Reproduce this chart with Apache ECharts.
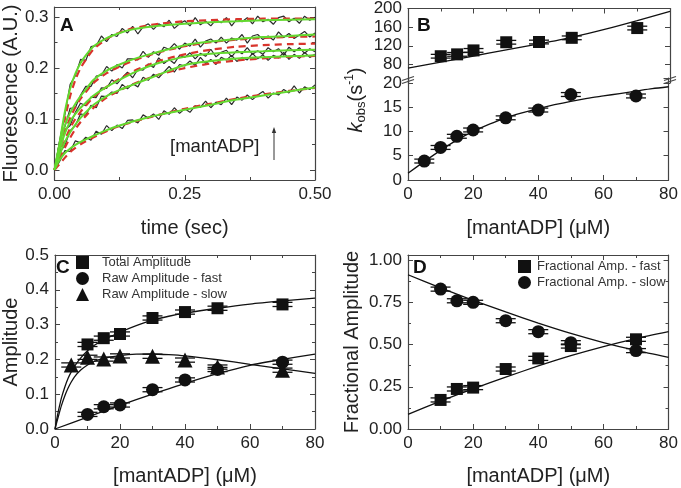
<!DOCTYPE html>
<html><head><meta charset="utf-8">
<script src="https://cdn.jsdelivr.net/npm/echarts@6/dist/echarts.min.js"></script>
<style>html,body{margin:0;padding:0;background:#fff}#c{width:681px;height:488px}</style>
</head><body><div id="c"></div>
<script>
// ---------- Panel A: stopped-flow traces ----------
const timeA = [0,0.01,0.02,0.03,0.04,0.05,0.06,0.07,0.08,0.09,0.10,0.11,0.12,0.13,0.14,0.15,0.16,0.17,0.18,0.19,0.20,0.21,0.22,0.23,0.24,0.25,0.26,0.27,0.28,0.29,0.30,0.31,0.32,0.33,0.34,0.35,0.36,0.37,0.38,0.39,0.40,0.41,0.42,0.43,0.44,0.45,0.46,0.47,0.48,0.49,0.50];
const traceA1 = [0,0.059,0.109,0.168,0.185,0.217,0.215,0.242,0.244,0.263,0.252,0.266,0.262,0.278,0.269,0.282,0.267,0.281,0.287,0.276,0.287,0.281,0.294,0.278,0.287,0.293,0.283,0.299,0.285,0.292,0.283,0.295,0.289,0.299,0.283,0.296,0.291,0.299,0.287,0.302,0.291,0.296,0.286,0.299,0.302,0.291,0.298,0.288,0.302,0.294,0.300];
const traceA2 = [0,0.057,0.085,0.121,0.122,0.147,0.164,0.164,0.184,0.186,0.203,0.194,0.207,0.200,0.218,0.218,0.216,0.233,0.221,0.232,0.225,0.241,0.237,0.248,0.237,0.249,0.243,0.257,0.241,0.253,0.257,0.249,0.261,0.249,0.259,0.255,0.266,0.249,0.263,0.266,0.256,0.263,0.255,0.271,0.260,0.268,0.258,0.265,0.272,0.261,0.269];
const traceA3 = [0,0.036,0.078,0.087,0.113,0.131,0.126,0.143,0.142,0.161,0.160,0.177,0.169,0.181,0.192,0.181,0.198,0.196,0.208,0.201,0.220,0.209,0.217,0.209,0.225,0.221,0.230,0.218,0.229,0.223,0.237,0.222,0.231,0.235,0.222,0.235,0.228,0.240,0.227,0.234,0.227,0.240,0.232,0.238,0.225,0.241,0.232,0.240,0.229,0.238,0.232];
const traceA4 = [0,0.035,0.048,0.077,0.087,0.110,0.107,0.127,0.122,0.145,0.144,0.153,0.150,0.168,0.159,0.169,0.163,0.182,0.176,0.188,0.181,0.192,0.203,0.192,0.207,0.204,0.214,0.205,0.221,0.209,0.217,0.207,0.221,0.216,0.225,0.213,0.221,0.216,0.229,0.218,0.226,0.215,0.225,0.220,0.231,0.217,0.227,0.219,0.231,0.221,0.227];
const traceA5 = [0,0.017,0.038,0.036,0.057,0.053,0.064,0.058,0.076,0.070,0.087,0.077,0.088,0.081,0.097,0.098,0.092,0.108,0.102,0.110,0.099,0.116,0.109,0.122,0.111,0.120,0.113,0.126,0.123,0.135,0.122,0.133,0.128,0.141,0.128,0.143,0.137,0.147,0.138,0.147,0.154,0.141,0.151,0.147,0.158,0.151,0.165,0.151,0.163,0.158,0.167];
const fitTimeA = [0,0.005,0.01,0.02,0.03,0.04,0.05,0.06,0.075,0.1,0.125,0.15,0.175,0.2,0.25,0.3,0.35,0.4,0.45,0.5];
const greenA1 = [0,0.025,0.055,0.115,0.160,0.189,0.210,0.225,0.243,0.259,0.269,0.276,0.280,0.283,0.287,0.290,0.292,0.294,0.295,0.296];
const greenA2 = [0,0.028,0.050,0.088,0.112,0.130,0.145,0.158,0.177,0.195,0.207,0.217,0.225,0.232,0.245,0.252,0.257,0.261,0.263,0.266];
const greenA3 = [0,0.022,0.040,0.072,0.095,0.110,0.122,0.132,0.146,0.163,0.177,0.190,0.201,0.210,0.222,0.228,0.231,0.233,0.235,0.236];
const greenA4 = [0,0.016,0.030,0.055,0.074,0.089,0.102,0.113,0.128,0.145,0.157,0.167,0.177,0.187,0.206,0.214,0.219,0.221,0.223,0.225];
const greenA5 = [0,0.011,0.020,0.033,0.042,0.049,0.055,0.060,0.067,0.078,0.087,0.095,0.102,0.108,0.118,0.128,0.138,0.146,0.154,0.162];
const redA1 = [0,0.018,0.045,0.100,0.145,0.177,0.200,0.216,0.237,0.257,0.270,0.278,0.283,0.287,0.292,0.294,0.296,0.297,0.297,0.297];
const redA2 = [0,0.020,0.040,0.075,0.102,0.123,0.140,0.153,0.171,0.190,0.203,0.214,0.223,0.231,0.243,0.251,0.256,0.259,0.261,0.262];
const redA3 = [0,0.015,0.030,0.058,0.082,0.100,0.114,0.126,0.143,0.163,0.179,0.193,0.204,0.214,0.227,0.236,0.242,0.245,0.247,0.248];
const redA4 = [0,0.010,0.022,0.044,0.063,0.080,0.094,0.106,0.122,0.142,0.156,0.168,0.178,0.187,0.200,0.209,0.215,0.219,0.222,0.224];
const redA5 = [0,0.006,0.012,0.024,0.035,0.043,0.050,0.056,0.064,0.076,0.086,0.094,0.101,0.108,0.120,0.130,0.140,0.148,0.155,0.161];

// ---------- Panel B: kobs vs [mantADP] ----------
const concBfast = [10,15,20,30,40,50,70];
const kFastB = [97.5,101.5,110,127.5,128,137,158];
const errFastB = [4,4,4,4,4,4,4];
const concBslow = [5,10,15,20,30,40,50,70];
const kSlowB = [3.9,6.7,9.0,10.3,12.8,14.4,17.6,17.3];
const errSlowB = [0.4,0.4,0.4,0.4,0.4,0.4,0.4,0.4];
const fitXBfast = [0,10,20,30,40,50,60,70,80];
const fitFastB = [72,85,98,111,124,138,155,174,194];
const fitXBslow = [0,5,10,15,20,25,30,35,40,45,50,55,60,65,70,75,80];
const fitSlowB = [1.4,3.8,6.1,8.2,10.0,11.5,12.8,13.8,14.7,15.5,16.2,16.8,17.3,17.8,18.3,18.8,19.2];

// ---------- Panel C: amplitudes ----------
const concC = [10,15,20,30,40,50,70];
const totalC = [0.243,0.261,0.273,0.319,0.336,0.347,0.358];
const fastC = [0.042,0.064,0.069,0.113,0.141,0.171,0.192];
const concCslow = [5,10,15,20,30,40,50,70];
const slowC = [0.184,0.206,0.201,0.210,0.209,0.198,0.178,0.169];
const errC = [0.006,0.006,0.006,0.006,0.006,0.006,0.006,0.006];
const fitXC = [0,0.5,1,1.5,2,3,4,5,6,8,10,12,15,20,25,30,35,40,50,60,70,80];
const fitTotalC = [0,0.026,0.05,0.071,0.09,0.12,0.145,0.164,0.18,0.205,0.225,0.24,0.256,0.278,0.297,0.313,0.324,0.333,0.347,0.359,0.368,0.376];
const fitSlowC = [0,0.018,0.035,0.052,0.068,0.095,0.117,0.135,0.15,0.17,0.184,0.194,0.203,0.211,0.215,0.2155,0.2135,0.21,0.199,0.186,0.173,0.16];
const fitXCfast = [0,10,20,30,40,50,60,70,80];
const fitFastC = [0,0.034,0.068,0.1,0.131,0.159,0.183,0.2,0.215];

// ---------- Panel D: fractional amplitudes ----------
const concD = [10,15,20,30,40,50,70];
const fracFastD = [0.172,0.237,0.245,0.355,0.418,0.491,0.531];
const fracSlowD = [0.828,0.759,0.750,0.641,0.576,0.511,0.464];
const errD = [0.012,0.012,0.012,0.012,0.012,0.012,0.012];
const fitXD = [0,10,20,30,40,50,60,70,80];
const fitSlowD = [0.913,0.835,0.762,0.693,0.627,0.566,0.512,0.465,0.424];
const fitFastD = [0.087,0.165,0.238,0.307,0.373,0.434,0.488,0.535,0.576];

// ---------- helpers ----------
const FONT = '"Liberation Sans", Arial, Helvetica, sans-serif';
const AX = '#444', TXT = '#222', INK = '#111';
const zip = (xs, ys) => xs.map((x, i) => [x, ys[i]]);
const zip3 = (xs, ys, es) => xs.map((x, i) => [x, ys[i], es[i]]);

function axisBase(extra) {
  return Object.assign({
    type: 'value',
    axisLine: { show: true, onZero: false, lineStyle: { color: AX, width: 1.2 } },
    axisTick: { show: true, inside: true, length: 5, lineStyle: { color: AX, width: 1 } },
    minorTick: { show: true, splitNumber: 2, length: 3, lineStyle: { color: AX, width: 1 } },
    splitLine: { show: false },
    axisLabel: { show: true, fontSize: 17, color: TXT, fontFamily: FONT, margin: 6 },
    nameTextStyle: { fontSize: 20, color: TXT, fontFamily: FONT },
    nameLocation: 'middle'
  }, extra);
}
function mirror(a, pos) {
  const m = JSON.parse(JSON.stringify(a));
  m.position = pos;
  m.axisLabel = { show: false };
  m.name = '';
  return m;
}
function fmt(d) { return v => v.toFixed(d); }

const xA = axisBase({ gridIndex: 0, min: 0, max: 0.5, interval: 0.25, position: 'bottom', name: 'time (sec)', nameGap: 38 });
xA.axisLabel.formatter = fmt(2);
const yA = axisBase({ gridIndex: 0, min: -0.02, max: 0.32, splitNumber: 3, position: 'left', name: 'Fluorescence (A.U.)', nameGap: 32 });
yA.axisLabel.formatter = fmt(1); yA.axisLabel.showMinLabel = false; yA.axisLabel.showMaxLabel = false;

const xBu = axisBase({ gridIndex: 1, min: 0, max: 80, interval: 20, position: 'bottom', show: false });
const xBuTop = axisBase({ gridIndex: 1, min: 0, max: 80, interval: 20, position: 'top' }); xBuTop.axisLabel = { show: false };
const yBu = axisBase({ gridIndex: 1, min: 40, max: 200, interval: 40, position: 'left' });
yBu.minorTick = { show: false }; yBu.axisLabel.showMinLabel = false;
const xBl = axisBase({ gridIndex: 2, min: 0, max: 80, interval: 20, position: 'bottom', name: '[mantADP] (\u03bcM)', nameGap: 38 });
const yBl = axisBase({ gridIndex: 2, min: 0, max: 21, interval: 5, position: 'left' });
yBl.minorTick = { show: false }; yBl.axisLabel.showMaxLabel = false;

const xC = axisBase({ gridIndex: 3, min: 0, max: 80, interval: 20, position: 'bottom', name: '[mantADP] (\u03bcM)', nameGap: 37 });
const yC = axisBase({ gridIndex: 3, min: 0, max: 0.5, interval: 0.1, position: 'left', name: 'Amplitude', nameGap: 34 });
yC.axisLabel.formatter = fmt(1);
const xD = axisBase({ gridIndex: 4, min: 0, max: 80, interval: 20, position: 'bottom', name: '[mantADP] (\u03bcM)', nameGap: 37 });
const yD = axisBase({ gridIndex: 4, min: 0, max: 1.03, interval: 0.25, position: 'left', name: 'Fractional Amplitude', nameGap: 46 });
yD.axisLabel.formatter = fmt(2); yD.axisLabel.showMaxLabel = false;

const xAxes = [xA, mirror(xA, 'top'), xBu, xBuTop, xBl, xC, mirror(xC, 'top'), xD, mirror(xD, 'top')];
const yAxes = [yA, mirror(yA, 'right'), yBu, mirror(yBu, 'right'), yBl, mirror(yBl, 'right'), yC, mirror(yC, 'right'), yD, mirror(yD, 'right')];

function errRender(params, api) {
  const x = api.value(0), y = api.value(1), e = api.value(2);
  const lo = api.coord([x, y - e]), hi = api.coord([x, y + e]);
  const hw = 10, st = { stroke: INK, lineWidth: 1.3 };
  return { type: 'group', children: [
    { type: 'line', shape: { x1: lo[0], y1: lo[1], x2: hi[0], y2: hi[1] }, style: st },
    { type: 'line', shape: { x1: lo[0] - hw, y1: lo[1], x2: lo[0] + hw, y2: lo[1] }, style: st },
    { type: 'line', shape: { x1: hi[0] - hw, y1: hi[1], x2: hi[0] + hw, y2: hi[1] }, style: st }
  ]};
}
function errSeries(xi, yi, data) {
  return { type: 'custom', xAxisIndex: xi, yAxisIndex: yi, renderItem: errRender, data: data, silent: true, z: 3 };
}
function scatter(name, xi, yi, data, sym, size) {
  return { name: name, type: 'scatter', xAxisIndex: xi, yAxisIndex: yi, data: data, symbol: sym, symbolSize: size,
    itemStyle: { color: INK, opacity: 1 }, z: 4, silent: true };
}
function fitLine(xi, yi, data, extra) {
  return Object.assign({ type: 'line', xAxisIndex: xi, yAxisIndex: yi, data: data, showSymbol: false, smooth: 0.25,
    lineStyle: { color: INK, width: 1.3 }, z: 2, silent: true }, extra || {});
}

const series = [];
[traceA1, traceA2, traceA3, traceA4, traceA5].forEach(t => series.push({
  type: 'line', xAxisIndex: 0, yAxisIndex: 0, data: zip(timeA, t), showSymbol: false,
  lineStyle: { color: '#2b2b2b', width: 1.2 }, z: 1, silent: true }));
[redA1, redA2, redA3, redA4, redA5].forEach(t => series.push(fitLine(0, 0, zip(fitTimeA, t),
  { lineStyle: { color: '#d8342c', width: 2.2, type: [7, 5] }, z: 2 })));
[greenA1, greenA2, greenA3, greenA4, greenA5].forEach(t => series.push(fitLine(0, 0, zip(fitTimeA, t),
  { lineStyle: { color: '#63d92f', width: 2 }, z: 3 })));
series.push(fitLine(2, 2, zip(fitXBfast, fitFastB)));
series.push(errSeries(2, 2, zip3(concBfast, kFastB, errFastB)));
series.push(scatter('kfast', 2, 2, zip(concBfast, kFastB), 'rect', 12));
series.push(fitLine(4, 4, zip(fitXBslow, fitSlowB)));
series.push(errSeries(4, 4, zip3(concBslow, kSlowB, errSlowB)));
series.push(scatter('kslow', 4, 4, zip(concBslow, kSlowB), 'circle', 13));
series.push(fitLine(5, 6, zip(fitXC, fitTotalC)));
series.push(fitLine(5, 6, zip(fitXC, fitSlowC)));
series.push(fitLine(5, 6, zip(fitXCfast, fitFastC)));
series.push(errSeries(5, 6, zip3(concC, totalC, errC)));
series.push(errSeries(5, 6, zip3(concC, fastC, errC)));
series.push(errSeries(5, 6, zip3(concCslow, slowC, errC)));
series.push(scatter('Total Amplitude', 5, 6, zip(concC, totalC), 'rect', 12));
series.push(scatter('Raw Amplitude - fast', 5, 6, zip(concC, fastC), 'circle', 13));
series.push(scatter('Raw Amplitude - slow', 5, 6, zip(concCslow, slowC), 'triangle', 15));
series.push(fitLine(7, 8, zip(fitXD, fitSlowD)));
series.push(fitLine(7, 8, zip(fitXD, fitFastD)));
series.push(errSeries(7, 8, zip3(concD, fracFastD, errD)));
series.push(errSeries(7, 8, zip3(concD, fracSlowD, errD)));
series.push(scatter('Fractional Amp. - fast', 7, 8, zip(concD, fracFastD), 'rect', 12));
series.push(scatter('Fractional Amp. - slow', 7, 8, zip(concD, fracSlowD), 'circle', 13));

function letter(t, x, y) {
  return { type: 'text', left: x, top: y, z: 10, style: { text: t, fontSize: 19, fontWeight: 'bold', fill: INK, fontFamily: FONT } };
}
function breakMark(x, y) {
  return { type: 'group', x: x, y: y, z: 20, silent: true, children: [
    { type: 'polygon', shape: { points: [[-6, 1.5], [6, -2.5], [6, 0.5], [-6, 4.5]] }, style: { fill: '#fff' } },
    { type: 'line', shape: { x1: -6, y1: 1.5, x2: 6, y2: -2.5 }, style: { stroke: AX, lineWidth: 1.1 } },
    { type: 'line', shape: { x1: -6, y1: 4.5, x2: 6, y2: 0.5 }, style: { stroke: AX, lineWidth: 1.1 } }
  ]};
}
const legendText = { fontSize: 13, color: '#333', fontFamily: FONT, padding: [0, 0, 0, 8] };

const option = {
  animation: false,
  backgroundColor: '#fff',
  textStyle: { fontFamily: FONT },
  grid: [
    { left: 54, right: 366, top: 7, bottom: 308 },
    { left: 408, right: 11, top: 7, bottom: 405 },
    { left: 408, right: 11, top: 78, bottom: 308 },
    { left: 54, right: 366, top: 255, bottom: 59 },
    { left: 408, right: 11, top: 255, bottom: 59 }
  ],
  xAxis: xAxes,
  yAxis: yAxes,
  legend: [
    { data: [{ name: 'Total Amplitude', icon: 'rect' }, { name: 'Raw Amplitude - fast', icon: 'circle' }, { name: 'Raw Amplitude - slow', icon: 'triangle' }],
      orient: 'vertical', left: 76, top: 256, padding: 0, itemWidth: 13, itemHeight: 13, itemGap: 3, selectedMode: false,
      textStyle: legendText },
    { data: [{ name: 'Fractional Amp. - fast', icon: 'rect' }, { name: 'Fractional Amp. - slow', icon: 'circle' }],
      orient: 'vertical', left: 518, top: 260, padding: 0, itemWidth: 13, itemHeight: 13, itemGap: 3, selectedMode: false,
      textStyle: Object.assign({}, legendText, { padding: [0, 0, 0, 1] }) }
  ],
  graphic: [
    letter('A', 60, 16), letter('B', 417, 16), letter('C', 56, 258), letter('D', 413, 258),
    { type: 'text', left: 170, top: 137, z: 10, style: { text: '[mantADP]', fontSize: 18.5, fill: TXT, fontFamily: FONT } },
    { type: 'line', z: 10, shape: { x1: 274, y1: 160, x2: 274, y2: 131 }, style: { stroke: '#333', lineWidth: 1 } },
    { type: 'polygon', z: 10, shape: { points: [[274, 127], [271.8, 133], [276.2, 133]] }, style: { fill: '#333' } },
    { type: 'text', x: 356, y: 100, rotation: Math.PI / 2, z: 10,
      style: { text: '{k|k}{s|obs}{n|(s}{p|-1}{n|)}', align: 'center', verticalAlign: 'middle', fill: TXT, fontFamily: FONT,
        rich: {
          k: { fontSize: 20, fontStyle: 'italic', lineHeight: 24, fill: TXT, fontFamily: FONT },
          s: { fontSize: 13, verticalAlign: 'bottom', lineHeight: 24, fill: TXT, fontFamily: FONT },
          n: { fontSize: 20, lineHeight: 24, fill: TXT, fontFamily: FONT },
          p: { fontSize: 12, verticalAlign: 'top', lineHeight: 24, fill: TXT, fontFamily: FONT }
        } } },
    breakMark(408, 79), breakMark(670, 79)
  ],
  series: series
};
const chart = echarts.init(document.getElementById('c'), null, { renderer: 'canvas' });
chart.setOption(option);
</script></body></html>
